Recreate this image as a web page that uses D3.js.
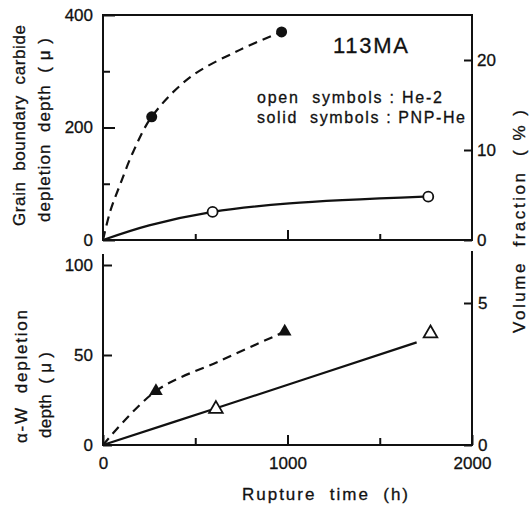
<!DOCTYPE html>
<html>
<head>
<meta charset="utf-8">
<script src="https://cdn.jsdelivr.net/npm/d3@7"></script>
<style>
    body { margin: 0; background: #fff; }
    svg { display: block; }
    text { font-family: "Liberation Sans", Arial, sans-serif; fill: #111; white-space: pre; }
</style>
</head>
<body>
<div id="chart"></div>
<script>
// Rupture time (h) vs depletion depth (μ), 113MA
// top panel: grain boundary carbide depletion depth
const heCircles = [[594, 50], [1763, 77]];          // open symbols: He-2
const pnpCircles = [[264, 219], [968, 370]];        // solid symbols: PNP-He
const heCarbideCurve = [[0, 0], [250, 26], [594, 50], [1010, 65], [1740, 77]];
const pnpCarbideCurve = [[0, 0], [40, 52], [92, 98], [164, 157], [264, 219], [471, 289], [742, 338], [968, 370]];

// bottom panel: alpha-W depletion depth
const heTriangles = [[612, 20], [1775, 62]];
const pnpTriangles = [[287, 30], [985, 63]];
const heWLine = [[0, 0], [600, 20], [1700, 57]];
const pnpWLine = [[0, 0], [287, 30], [640, 47], [985, 63]];

// ticks
const xLabelTicks = [0, 1000, 2000];
const xMinorTicks = [500, 1500];
const topLeftTicks = [0, 200, 400];
const topLeftMinor = [100, 300];
const topRightTicks = [0, 10, 20];
const botLeftTicks = [0, 50, 100];
const botRightTicks = [0, 5];

const width = 529, height = 506;

const svg = d3.select("#chart")
    .append("svg")
    .attr("width", width)
    .attr("height", height);

// scales
const x = d3.scaleLinear().domain([0, 2000]).range([103, 472]);
const yTop = d3.scaleLinear().domain([0, 400]).range([240, 15]);
const yTopR = d3.scaleLinear().domain([0, 20]).range([240, 60]);
const yBot = d3.scaleLinear().domain([0, 100]).range([445, 265]);
const yBotR = d3.scaleLinear().domain([0, 5]).range([445, 303]);

const fmt = d3.format("d");

function styleAxis(g, size) {
    g.select(".domain").remove();
    g.selectAll("line").attr("stroke", "#111").attr("stroke-width", 2);
    g.selectAll("text")
        .attr("font-family", "Liberation Sans, Arial, sans-serif")
        .attr("font-size", size)
        .attr("fill", "#111")
        .attr("stroke", "#111").attr("stroke-width", 0.3);
}

// frames
svg.append("rect")
    .attr("x", x(0)).attr("y", yTop(400))
    .attr("width", x(2000) - x(0)).attr("height", yTop(0) - yTop(400))
    .attr("fill", "none").attr("stroke", "#111").attr("stroke-width", 2);

svg.append("path")
    .attr("d", `M${x(0)},254 V${yBot(0)} H${x(2000)} V251`)
    .attr("fill", "none").attr("stroke", "#111").attr("stroke-width", 2);

// top panel axes
svg.append("g").attr("transform", `translate(${x(0)},0)`)
    .call(d3.axisLeft(yTop).tickValues(topLeftTicks).tickSize(-12).tickPadding(10).tickFormat(fmt))
    .call(g => styleAxis(g, 17));
svg.append("g").attr("transform", `translate(${x(0)},0)`)
    .call(d3.axisLeft(yTop).tickValues(topLeftMinor).tickSize(-7).tickFormat(""))
    .call(g => styleAxis(g, 17));
svg.append("g").attr("transform", `translate(${x(2000)},0)`)
    .call(d3.axisRight(yTopR).tickValues(topRightTicks).tickSize(-8).tickPadding(5).tickFormat(fmt))
    .call(g => styleAxis(g, 17));
svg.append("g").attr("transform", `translate(0,${yTop(0)})`)
    .call(d3.axisBottom(x).tickValues([1000]).tickSize(-10).tickFormat(""))
    .call(g => styleAxis(g, 17));
svg.append("g").attr("transform", `translate(0,${yTop(0)})`)
    .call(d3.axisBottom(x).tickValues(xMinorTicks).tickSize(-6).tickFormat(""))
    .call(g => styleAxis(g, 17));

// bottom panel axes
svg.append("g").attr("transform", `translate(${x(0)},0)`)
    .call(d3.axisLeft(yBot).tickValues(botLeftTicks).tickSize(-9).tickPadding(10).tickFormat(fmt))
    .call(g => styleAxis(g, 17));
svg.append("g").attr("transform", `translate(${x(2000)},0)`)
    .call(d3.axisRight(yBotR).tickValues(botRightTicks).tickSize(-8).tickPadding(6).tickFormat(fmt))
    .call(g => styleAxis(g, 17));
svg.append("g").attr("transform", `translate(0,${yBot(0)})`)
    .call(d3.axisBottom(x).tickValues(xLabelTicks).tickSize(-10).tickPadding(12).tickFormat(fmt))
    .call(g => styleAxis(g, 17));
svg.append("g").attr("transform", `translate(0,${yBot(0)})`)
    .call(d3.axisBottom(x).tickValues(xMinorTicks).tickSize(-7).tickFormat(""))
    .call(g => styleAxis(g, 17));

// curves
const lineTop = d3.line().x(d => x(d[0])).y(d => yTop(d[1])).curve(d3.curveCatmullRom.alpha(0.5));
const lineBot = d3.line().x(d => x(d[0])).y(d => yBot(d[1])).curve(d3.curveCatmullRom.alpha(0.5));

svg.append("path").datum(pnpCarbideCurve).attr("d", lineTop)
    .attr("fill", "none").attr("stroke", "#111").attr("stroke-width", 2.2)
    .attr("stroke-dasharray", "9,6");
svg.append("path").datum(heCarbideCurve).attr("d", lineTop)
    .attr("fill", "none").attr("stroke", "#111").attr("stroke-width", 2.2);
svg.append("path").datum(pnpWLine).attr("d", lineBot)
    .attr("fill", "none").attr("stroke", "#111").attr("stroke-width", 2.2)
    .attr("stroke-dasharray", "9,6");
svg.append("path").datum(heWLine).attr("d", lineBot)
    .attr("fill", "none").attr("stroke", "#111").attr("stroke-width", 2.2);

// markers
svg.selectAll(".pnp-circle").data(pnpCircles).enter().append("circle")
    .attr("cx", d => x(d[0])).attr("cy", d => yTop(d[1])).attr("r", 5.5)
    .attr("fill", "#111");
svg.selectAll(".he-circle").data(heCircles).enter().append("circle")
    .attr("cx", d => x(d[0])).attr("cy", d => yTop(d[1])).attr("r", 5)
    .attr("fill", "#fff").attr("stroke", "#111").attr("stroke-width", 1.8);

const tri = d3.symbol().type(d3.symbolTriangle).size(80);
svg.selectAll(".pnp-tri").data(pnpTriangles).enter().append("path")
    .attr("d", tri)
    .attr("transform", d => `translate(${x(d[0])},${yBot(d[1])})`)
    .attr("fill", "#111");
svg.selectAll(".he-tri").data(heTriangles).enter().append("path")
    .attr("d", tri)
    .attr("transform", d => `translate(${x(d[0])},${yBot(d[1])})`)
    .attr("fill", "#fff").attr("stroke", "#111").attr("stroke-width", 1.8);

// texts
function label(el) {
    return el.attr("stroke", "#111").attr("stroke-width", 0.3).attr("lengthAdjust", "spacing");
}
label(svg.append("text").attr("x", 333).attr("y", 53)
    .attr("font-size", 22).attr("textLength", 75)
    .text("113MA"));
label(svg.append("text").attr("x", 257).attr("y", 103)
    .attr("font-size", 16).attr("textLength", 185)
    .text("open  symbols : He-2"));
label(svg.append("text").attr("x", 257).attr("y", 123)
    .attr("font-size", 16).attr("textLength", 208)
    .text("solid  symbols : PNP-He"));

label(svg.append("text").attr("x", 325).attr("y", 500)
    .attr("text-anchor", "middle")
    .attr("font-size", 17).attr("textLength", 166)
    .text("Rupture  time  (h)"));

function vText(tx, ty, len, txt) {
    label(svg.append("text")
        .attr("transform", `translate(${tx},${ty}) rotate(-90)`)
        .attr("font-size", 17).attr("textLength", len)
        .text(txt));
}
vText(25, 226, 201, "Grain  boundary  carbide");
vText(50, 222, 184, "depletion  depth  ( μ )");
vText(27, 443, 133, "α-W  depletion");
vText(51, 438, 86, "depth  ( μ )");
vText(525, 333, 223, "Volume  fraction  ( % )");
</script>
</body>
</html>
